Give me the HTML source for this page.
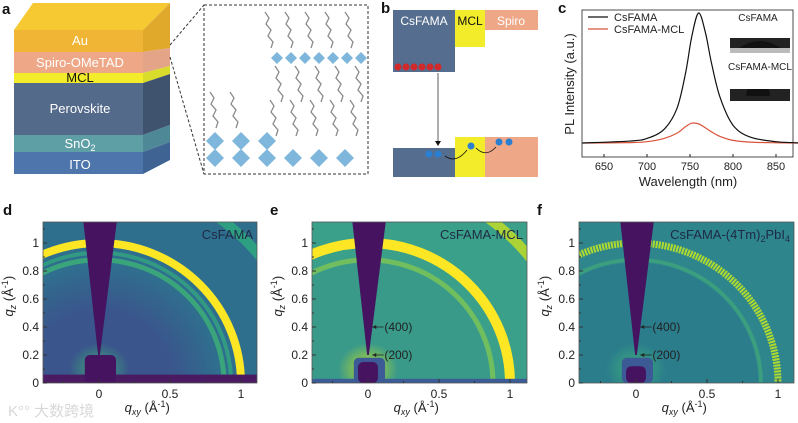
<!DOCTYPE html>
<html><head><meta charset="utf-8">
<style>
html,body{margin:0;padding:0;background:#fff;width:798px;height:423px;overflow:hidden;}
svg{display:block;font-family:"Liberation Sans","Noto Sans CJK SC",sans-serif;}
</style></head>
<body>
<svg id="fig" width="798" height="423" viewBox="0 0 798 423" xmlns="http://www.w3.org/2000/svg">
<defs>
  <radialGradient id="glowE" cx="0.5" cy="0.5" r="0.5"><stop offset="0" stop-color="#c8e020" stop-opacity="0.9"/><stop offset="1" stop-color="#c8e020" stop-opacity="0"/></radialGradient>
  <radialGradient id="glowD" cx="0.5" cy="0.5" r="0.5"><stop offset="0" stop-color="#3fbc73" stop-opacity="0.8"/><stop offset="1" stop-color="#3fbc73" stop-opacity="0"/></radialGradient>
  <radialGradient id="innerD" cx="0.5" cy="0.5" r="0.5"><stop offset="0.6" stop-color="#3d4f8b"/><stop offset="1" stop-color="#3d4f8b" stop-opacity="0"/></radialGradient>
  <clipPath id="clipD"><rect x="43" y="222" width="214" height="161"/></clipPath>
  <clipPath id="clipE"><rect x="312" y="222" width="215" height="161"/></clipPath>
  <clipPath id="clipF"><rect x="579" y="222" width="215" height="161"/></clipPath>
</defs>

<g font-weight="bold" font-size="15" fill="#111">
<text x="2" y="14">a</text>
<text x="381" y="13">b</text>
<text x="558" y="13">c</text>
<text x="3" y="215">d</text>
<text x="270" y="215">e</text>
<text x="537" y="215">f</text>
</g>

<g>
  <polygon points="14,30 33,3 170,3 143,30" fill="#f6c832"/>
  <polygon points="143,30 170,3 170,48 143,52" fill="#e0a92c"/>
  <polygon points="143,52 170,48 170,66 143,73" fill="#e4a488"/>
  <polygon points="143,73 170,66 170,74 143,83" fill="#d9dc2a"/>
  <polygon points="143,83 170,74 170,125 143,135" fill="#3f536e"/>
  <polygon points="143,135 170,125 170,142 143,152" fill="#4e8796"/>
  <polygon points="143,152 170,142 170,160 143,174" fill="#3f6493"/>
  <rect x="14" y="30" width="129" height="22" fill="#f0b534"/>
  <rect x="14" y="52" width="129" height="21" fill="#eea887"/>
  <rect x="14" y="73" width="129" height="10" fill="#f2ec2a"/>
  <rect x="14" y="83" width="129" height="52" fill="#546a8a"/>
  <rect x="14" y="135" width="129" height="17" fill="#5e9ea5"/>
  <rect x="14" y="152" width="129" height="22" fill="#4e76ad"/>
  <g fill="#fff" font-size="13" text-anchor="middle">
    <text x="80" y="45">Au</text>
    <text x="80" y="67">Spiro-OMeTAD</text>
    <text x="80" y="82" fill="#111">MCL</text>
    <text x="80" y="113">Perovskite</text>
    <text x="80" y="148">SnO<tspan font-size="9" dy="3">2</tspan></text>
    <text x="80" y="169">ITO</text>
  </g>
  <line x1="170" y1="45" x2="204" y2="5" stroke="#333" stroke-dasharray="3,2"/>
  <line x1="170" y1="57" x2="204" y2="174" stroke="#333" stroke-dasharray="3,2"/>
</g>

<g>
  <rect x="204" y="5" width="164" height="169" fill="#fff" stroke="#333" stroke-dasharray="3,2"/>
  <g id="octa"></g>
</g>

<g>
  <rect x="393" y="10" width="62" height="62" fill="#556d8f"/>
  <rect x="455" y="10" width="30" height="37" fill="#f2ec2a"/>
  <rect x="485" y="10" width="53" height="20" fill="#eea887"/>
  <rect x="393" y="148" width="62" height="29" fill="#556d8f"/>
  <rect x="455" y="137" width="30" height="40" fill="#f2ec2a"/>
  <rect x="485" y="137" width="53" height="40" fill="#eea887"/>
  <text x="424" y="25" fill="#fff" font-size="12" text-anchor="middle">CsFAMA</text>
  <text x="470" y="25" fill="#111" font-size="12" text-anchor="middle">MCL</text>
  <text x="511" y="25" fill="#fff" font-size="12" text-anchor="middle">Spiro</text>
  <g fill="#d02a2a">
    <circle cx="398" cy="67" r="3.5"/><circle cx="406" cy="67" r="3.5"/><circle cx="414" cy="67" r="3.5"/><circle cx="422" cy="67" r="3.5"/><circle cx="430" cy="67" r="3.5"/><circle cx="438" cy="67" r="3.5"/>
  </g>
  <line x1="438" y1="73" x2="438" y2="142" stroke="#333" stroke-width="0.8"/>
  <polygon points="435,141 441,141 438,146" fill="#111"/>
  <g fill="#2a7fd0"><circle cx="429" cy="154" r="3.5"/><circle cx="438" cy="154" r="3.5"/><circle cx="471" cy="146" r="3.5"/><circle cx="499" cy="142" r="3.5"/><circle cx="509" cy="142" r="3.5"/></g>
  <path d="M445,156 Q456,164 467,150" fill="none" stroke="#111" stroke-width="0.8"/>
  <path d="M476,148 Q486,158 496,147" fill="none" stroke="#111" stroke-width="0.8"/>
</g>

<g id="panelC"></g>
<g id="panelD"></g>
<g id="panelE"></g>
<g id="panelF"></g>

<text x="8" y="416" font-size="15" fill="#d8d8d8">K°° 大数跨境</text>
</svg>

<script>
const NS = "http://www.w3.org/2000/svg";
const wavelengths = [625, 680, 700, 720, 735, 745, 752, 760, 768, 775, 785, 800, 820, 850, 880];
const plCsFAMA    = [0.015, 0.03, 0.05, 0.12, 0.28, 0.55, 0.82, 1.0, 0.85, 0.62, 0.36, 0.15, 0.06, 0.025, 0.015];
const plMCL       = [0.015, 0.018, 0.025, 0.05, 0.09, 0.14, 0.165, 0.16, 0.13, 0.10, 0.065, 0.035, 0.022, 0.017, 0.015];
const cTicks = [650, 700, 750, 800, 850];
const yTicks = [0, 0.2, 0.4, 0.6, 0.8, 1];
const xTicks = [0, 0.5, 1];
const ringsD = [0.88, 0.93, 1.0, 1.45];
const ringsE = [0.88, 1.0, 1.45];
const ringsF = [0.88, 1.0];
const peakLabels = ["(400)", "(200)"];
const peakQz = [0.4, 0.2];

function el(tag, attrs, parent){
  const e = document.createElementNS(NS, tag);
  for (const k in attrs) e.setAttribute(k, attrs[k]);
  parent.appendChild(e); return e;
}
function smooth(pts){
  let d = "M" + pts[0][0] + "," + pts[0][1];
  for (let i=0;i<pts.length-1;i++){
    const p0=pts[Math.max(0,i-1)],p1=pts[i],p2=pts[i+1],p3=pts[Math.min(pts.length-1,i+2)];
    const c1x=p1[0]+(p2[0]-p0[0])/6,c1y=p1[1]+(p2[1]-p0[1])/6;
    const c2x=p2[0]-(p3[0]-p1[0])/6,c2y=p2[1]-(p3[1]-p1[1])/6;
    d+=` C${c1x},${c1y} ${c2x},${c2y} ${p2[0]},${p2[1]}`;
  }
  return d;
}

(function(){
  const g = document.getElementById('octa');
  for (let i=0;i<6;i++){ const cx=215+i*26,cy=158; el('polygon',{points:`${cx-9},${cy} ${cx},${cy-9} ${cx+9},${cy} ${cx},${cy+9}`,fill:'#7fb6dc'},g); }
  for (let i=0;i<3;i++){ const cx=215+i*26,cy=141; el('polygon',{points:`${cx-9},${cy} ${cx},${cy-9} ${cx+9},${cy} ${cx},${cy+9}`,fill:'#7fb6dc'},g); }
  for (let i=0;i<7;i++){ const cx=277+i*14,cy=58; el('polygon',{points:`${cx-6},${cy} ${cx},${cy-6} ${cx+6},${cy} ${cx},${cy+6}`,fill:'#7fb6dc'},g); }
  const mols=[[265,12],[285,12],[305,12],[325,12],[345,12],[275,66],[295,66],[315,66],[335,66],[355,66],[210,92],[230,92],[270,100],[290,100],[310,100],[330,100],[350,100]];
  mols.forEach(m=>{ el('path',{d:`M${m[0]},${m[1]} l4,6 l-3,6 l5,6 l-3,6 l5,6 l-2,6`,fill:'none',stroke:'#8a8a8a','stroke-width':1.3},g); });
})();

(function(){
  const g = document.getElementById('panelC');
  const x0=582,x1=793,y0=10,y1=157;
  const sx = w => 604 + (w-650)*(172/200);
  const sy = v => 145 - v*132;
  el('rect',{x:x0,y:y0,width:x1-x0,height:y1-y0,fill:'none',stroke:'#222','stroke-width':0.8},g);
  cTicks.forEach(t=>{
    el('line',{x1:sx(t),y1:y1,x2:sx(t),y2:y1-3,stroke:'#222'},g);
    const tx=el('text',{x:sx(t),y:y1+13,'font-size':11,'text-anchor':'middle',fill:'#222'},g); tx.textContent=t;
  });
  const ttl=el('text',{x:688,y:186,'font-size':13,'text-anchor':'middle',fill:'#222'},g); ttl.textContent='Wavelength (nm)';
  const yl=el('text',{x:0,y:0,'font-size':13,'text-anchor':'middle',fill:'#222',transform:'translate(574,84) rotate(-90)'},g); yl.textContent='PL Intensity (a.u.)';
  const red=el('path',{d:smooth(wavelengths.map((w,i)=>[sx(w),sy(plMCL[i])])),fill:'none',stroke:'#d9533a','stroke-width':1.2},g);
  
  
  const blk=el('path',{d:smooth(wavelengths.map((w,i)=>[sx(w),sy(plCsFAMA[i])])),fill:'none',stroke:'#111','stroke-width':1.2},g);
  
  
  el('line',{x1:588,y1:17,x2:608,y2:17,stroke:'#111','stroke-width':1.2},g);
  el('line',{x1:588,y1:29,x2:608,y2:29,stroke:'#d9533a','stroke-width':1.2},g);
  const l1=el('text',{x:614,y:21,'font-size':11,fill:'#222'},g); l1.textContent='CsFAMA';
  
  
  const l2=el('text',{x:614,y:33,'font-size':11,fill:'#222'},g); l2.textContent='CsFAMA-MCL';
  
  
  const a=el('text',{x:758,y:21,'font-size':10,fill:'#222','text-anchor':'middle'},g); a.textContent='CsFAMA';
  el('rect',{x:730,y:38,width:60,height:15,fill:'#222'},g);
  el('path',{d:'M736,50 Q760,32 784,50 Z',fill:'#111'},g);
  el('rect',{x:730,y:48,width:60,height:5,fill:'#bbb'},g);
  const b=el('text',{x:760,y:70,'font-size':10,fill:'#222','text-anchor':'middle'},g); b.textContent='CsFAMA-MCL';
  el('rect',{x:730,y:89,width:60,height:12,fill:'#222'},g);
  el('path',{d:'M746,96 A12,14 0 0 1 770,96 Z',fill:'#111'},g);
  el('rect',{x:730,y:76,width:60,height:13,fill:'#fff'},g);
})();

function giwaxs(id, cfg){
  const g = document.getElementById(id);
  const L=cfg.left, R=cfg.right, T=222, B=383;
  const sx = q => cfg.x0 + q*142;
  const sy = q => 383 - q*140;
  const c = el('g',{'clip-path':`url(#${cfg.clip})`},g);
  el('rect',{x:L,y:T,width:R-L,height:B-T,fill:cfg.bg},c);
  if (cfg.inner) el('ellipse',{cx:sx(0),cy:sy(0),rx:0.86*142,ry:0.86*140,fill:cfg.inner,opacity:0.8},c);
  cfg.rings.forEach((q,i)=>{
    const r = el('ellipse',{cx:sx(0),cy:sy(0),rx:q*142,ry:q*140,fill:'none',stroke:cfg.ringColors[i],'stroke-width':cfg.ringWidths[i],opacity:cfg.ringOps[i]},c);
    if (cfg.dash && q===1.0) r.setAttribute('stroke-dasharray','2,1');
    
    
  });
  el('ellipse',{cx:sx(0),cy:sy(0.1),rx:30,ry:26,fill:cfg.glow},c);
  el('rect',{x:L,y:sy(cfg.stripH),width:R-L,height:B-sy(cfg.stripH),fill:cfg.strip},c);
  if (cfg.blueBlock) el('rect',{x:sx(-0.1),y:sy(0.18),width:0.22*142,height:0.18*140,rx:5,fill:cfg.blueBlock},c);
  el('rect',{x:sx(cfg.blk[0]),y:sy(cfg.blk[2]),width:(cfg.blk[1]-cfg.blk[0])*142,height:cfg.blk[2]*140,rx:5,fill:'#45135f'},c);
  const w = el('polygon',{points:`${sx(-0.11)},${T} ${sx(0.125)},${T} ${sx(0.006)},${sy(0.2)} ${sx(-0.006)},${sy(0.2)}`,fill:'#45135f'},c);
  
  
  el('rect',{x:L,y:T,width:R-L,height:B-T,fill:'none',stroke:'#555','stroke-width':0.8},g);
  yTicks.forEach(t=>{
    el('line',{x1:L,y1:sy(t),x2:L+4,y2:sy(t),stroke:'#333'},g);
    el('line',{x1:L,y1:sy(t+0.1),x2:L+2,y2:sy(t+0.1),stroke:'#333'},g);
    const tx=el('text',{x:L-4,y:sy(t)+4,'font-size':12,'text-anchor':'end',fill:'#222'},g); tx.textContent=t;
  });
  xTicks.forEach(t=>{
    el('line',{x1:sx(t),y1:B,x2:sx(t),y2:B-4,stroke:'#333'},g);
    el('line',{x1:sx(t-0.25),y1:B,x2:sx(t-0.25),y2:B-2,stroke:'#333'},g);
    const tx=el('text',{x:sx(t),y:B+15,'font-size':12,'text-anchor':'middle',fill:'#222'},g); tx.textContent=t;
  });
  const xt=el('text',{x:sx(0.34),y:B+29,'font-size':13,'text-anchor':'middle',fill:'#222'},g);
  xt.innerHTML='<tspan font-style="italic">q</tspan><tspan font-style="italic" font-size="9" dy="3">xy</tspan><tspan dy="-3"> (Å</tspan><tspan font-size="9" dy="-5">-1</tspan><tspan dy="5">)</tspan>';
  const yt=el('text',{x:0,y:0,'font-size':13,'text-anchor':'middle',fill:'#222',transform:`translate(${L-30},${sy(0.62)}) rotate(-90)`},g);
  yt.innerHTML='<tspan font-style="italic">q</tspan><tspan font-style="italic" font-size="9" dy="3">z</tspan><tspan dy="-3"> (Å</tspan><tspan font-size="9" dy="-5">-1</tspan><tspan dy="5">)</tspan>';
  const lab=el('text',{x:R-4,y:T+17,'font-size':13,'text-anchor':'end',fill:'#1e2a44'},g); lab.innerHTML=cfg.label;
  if (cfg.peaks){
    peakQz.forEach((q,i)=>{
      el('line',{x1:sx(0.03),y1:sy(q),x2:sx(0.11),y2:sy(q),stroke:'#222','stroke-width':0.8},g);
      el('polygon',{points:`${sx(0.03)},${sy(q)} ${sx(0.03)+4},${sy(q)-2} ${sx(0.03)+4},${sy(q)+2}`,fill:'#222'},g);
      const pt=el('text',{x:sx(0.115),y:sy(q)+4,'font-size':12,fill:'#222'},g); pt.textContent=peakLabels[i];
    });
  }
}
giwaxs('panelD',{left:43,right:257,x0:99,clip:'clipD',bg:'#2f6f8e',inner:'url(#innerD)',rings:ringsD,
  ringColors:['#3fbc73','#35b779','#fde725','#2fb47c'],ringWidths:[5,4,8,10],ringOps:[0.7,0.6,1,0.7],
  glow:'url(#glowD)',stripH:0.06,strip:'#4a1a63',blk:[-0.1,0.12,0.2],label:'CsFAMA',peaks:false});
giwaxs('panelE',{left:312,right:527,x0:368,clip:'clipE',bg:'#3ba08a',inner:'#3a998a',rings:ringsE,
  ringColors:['#a8db34','#fde725','#c8e020'],ringWidths:[5,10,10],ringOps:[0.5,1,0.8],
  glow:'url(#glowE)',stripH:0.03,strip:'#3b5c96',blueBlock:'#3b5a96',blk:[-0.07,0.07,0.15],label:'CsFAMA-MCL',peaks:true});
giwaxs('panelF',{left:579,right:794,x0:636,clip:'clipF',bg:'#2e858c',inner:'#2b7a8c',rings:ringsF,
  ringColors:['#4ec36b','#b5de2b'],ringWidths:[4,7],ringOps:[0.4,0.95],dash:true,
  glow:'url(#glowD)',stripH:0.005,strip:'#2e858c',blueBlock:'#3b5a96',blk:[-0.07,0.07,0.12],label:'CsFAMA-(4Tm)<tspan font-size="9" dy="3">2</tspan><tspan dy="-3">PbI</tspan><tspan font-size="9" dy="3">4</tspan>',peaks:true});
</script>
</body></html>
